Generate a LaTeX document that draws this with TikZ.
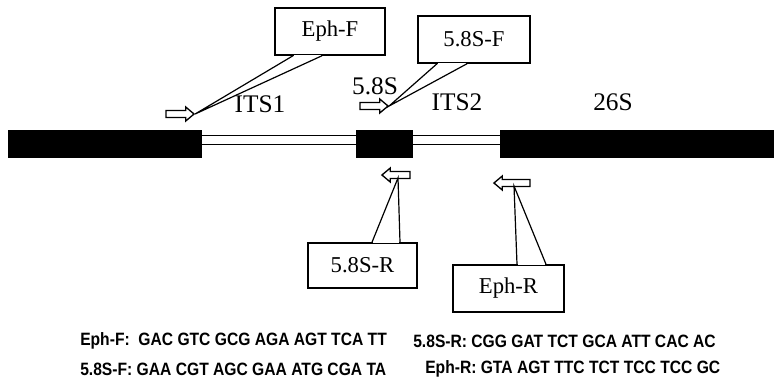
\documentclass[tikz,border=0pt]{standalone}
\usepackage{fontspec}
\setmainfont{Liberation Serif}
\newfontfamily\seqfont[FakeStretch=0.875]{Liberation Sans}
\usetikzlibrary{shapes.arrows,calc}

\begin{document}
\begin{tikzpicture}[x=0.75pt,y=-0.75pt,
  gene/.style={fill=black},
  spacer/.style={draw,line width=1.1pt,fill=white},
  primer/.style={single arrow,draw,line width=1pt,fill=white,inner xsep=0pt,inner ysep=2.1pt,minimum height=21pt,single arrow head extend=2.6pt,single arrow tip angle=80},
  callbox/.style={draw,line width=1.1pt,fill=white,font=\fontsize{17}{20}\selectfont},
  wedge/.style={line width=0.9pt},
  gap/.style={white,line width=1.8pt},
  region/.style={font=\fontsize{19}{22}\selectfont},
  seq/.style={anchor=west,inner sep=0pt,font=\seqfont\bfseries\fontsize{13.4}{15}\selectfont}]
\useasboundingbox (0,0) rectangle (774,380);

% spacers and gene blocks
\draw[spacer] (200,135.5) rectangle (358,144.5);
\draw[spacer] (411,135.5) rectangle (502,144.5);
\fill[gene] (8,130) rectangle (202,158);
\fill[gene] (356,130) rectangle (413,158);
\fill[gene] (500,130) rectangle (774,158);

\node[region] (its1) at (260,104) {ITS1};
\node[region] (s58) at (375,86) {5.8S};
\node[region] (its2) at (457,102) {ITS2};
\node[region] (s26) at (613,102) {26S};

% primers
\node[primer] (ef) at (178,114) {};
\node[primer] (sf) at (372,106) {};
\node[primer,shape border rotate=180] (sr) at (398,175) {};
\node[primer,shape border rotate=180,minimum height=27pt] (er) at (514,183) {};

% callouts
\node[callbox,minimum width=82.5pt,minimum height=35.25pt] (efbox) at (330,31.5) {Eph-F};
\node[callbox,minimum width=84pt,minimum height=35.25pt] (sfbox) at (474,39.5) {5.8S-F};
\node[callbox,minimum width=81.75pt,minimum height=33.75pt] (srbox) at (362.5,265.5) {5.8S-R};
\node[callbox,minimum width=83.25pt,minimum height=35.25pt] (erbox) at (508.5,288.5) {Eph-R};

\draw[gap] ($(efbox.south)+(-36,0)$) -- ($(efbox.south)+(-9,0)$);
\draw[wedge] ($(efbox.south)+(-37,0)$) -- (ef.tip) -- ($(efbox.south)+(-8,0)$);
\draw[gap] ($(sfbox.south)+(-36,0)$) -- ($(sfbox.south)+(-8,0)$);
\draw[wedge] ($(sfbox.south)+(-37,0)$) -- (sf.tip) -- ($(sfbox.south)+(-7,0)$);
\draw[gap] ($(srbox.north)+(10.5,0)$) -- ($(srbox.north)+(36.5,0)$);
\draw[wedge] ($(srbox.north)+(9.5,0)$) -- ($(sr.center)+(0,3)$) -- ($(srbox.north)+(37.5,0)$);
\draw[gap] ($(erbox.north)+(9.5,0)$) -- ($(erbox.north)+(36.5,0)$);
\draw[wedge] ($(erbox.north)+(8.5,0)$) -- ($(er.center)+(0,3)$) -- ($(erbox.north)+(37.5,0)$);

% sequences
\node[seq] (efseq) at (80,341) {Eph-F:\ \ GAC GTC GCG AGA AGT TCA TT};
\node[seq] (sfseq) at (80,369) {5.8S-F: GAA CGT AGC GAA ATG CGA TA};
\node[seq] (srseq) at (413,341) {5.8S-R: CGG GAT TCT GCA ATT CAC AC};
\node[seq] (erseq) at (425,369) {Eph-R: GTA AGT TTC TCT TCC TCC GC};
\end{tikzpicture}
\end{document}
